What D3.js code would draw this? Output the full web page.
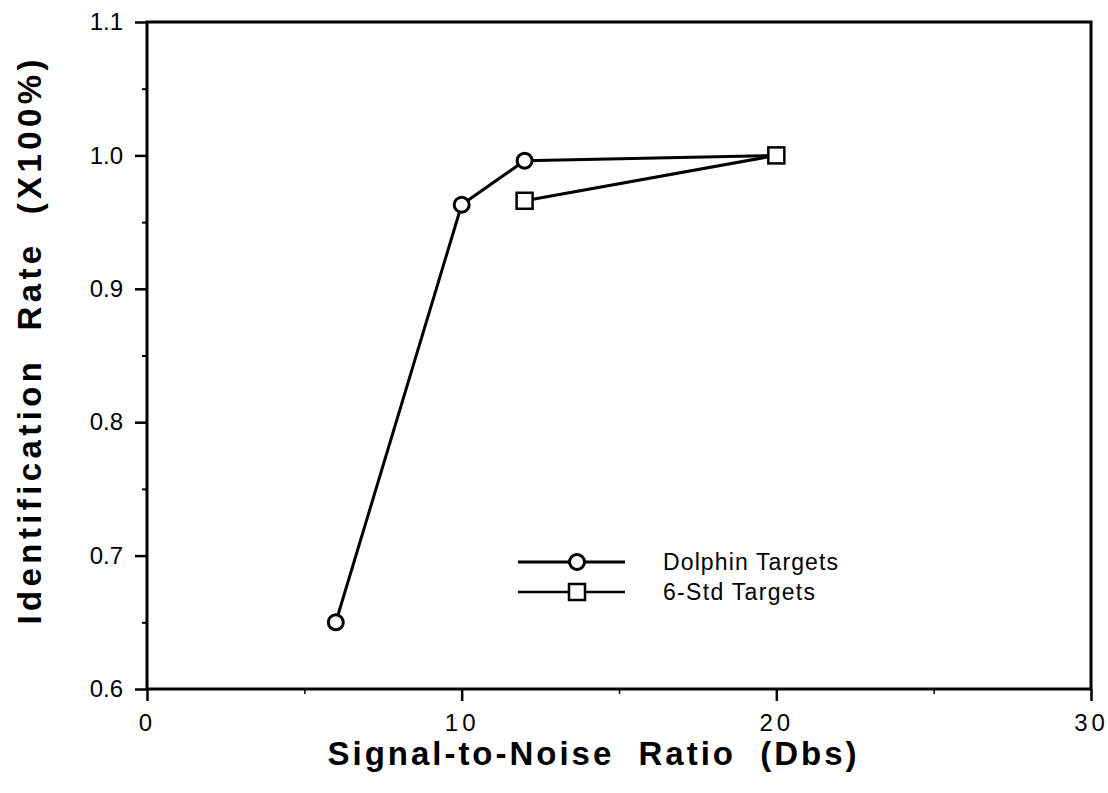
<!DOCTYPE html>
<html><head><meta charset="utf-8">
<script src="https://cdn.jsdelivr.net/npm/d3@7"></script>
<style>body{margin:0;background:#fff}svg{display:block}</style>
</head><body>
<script>
const dolphinX = [6, 10, 12, 20];
const dolphinY = [0.65, 0.963, 0.996, 1.0];
const stdX = [12, 20];
const stdY = [0.966, 1.0];
const xTicks = [0, 10, 20, 30];
const xMinor = [5, 15, 25];
const yTicks = [0.6, 0.7, 0.8, 0.9, 1.0, 1.1];
const yMinor = [0.65, 0.75, 0.85, 0.95, 1.05];
const legendLabels = ["Dolphin Targets", "6-Std Targets"];

const W = 1108, H = 793;
const svg = d3.select("body").append("svg").attr("width", W).attr("height", H);
const x = d3.scaleLinear().domain([0, 30]).range([147, 1091]);
const y = d3.scaleLinear().domain([0.6, 1.1]).range([689, 22]);
const font = "'Liberation Sans', Arial, Helvetica, sans-serif";

// frame
svg.append("rect").attr("x", x(0)).attr("y", y(1.1)).attr("width", x(30) - x(0)).attr("height", y(0.6) - y(1.1))
  .attr("fill", "none").attr("stroke", "#000").attr("stroke-width", 3);

// axes
const xAxis = d3.axisBottom(x).tickValues(xTicks).tickSize(12).tickPadding(13).tickFormat(d3.format("d"));
const gx = svg.append("g").attr("transform", `translate(0,${y(0.6)})`).call(xAxis);
gx.select(".domain").remove();
gx.selectAll("line").attr("stroke-width", 2.5);
gx.selectAll("text").style("font-family", font).style("font-size", "24px").attr("letter-spacing", 4).attr("fill", "#000");
const gxm = svg.append("g").attr("transform", `translate(0,${y(0.6)})`).call(d3.axisBottom(x).tickValues(xMinor).tickSize(5).tickFormat(""));
gxm.select(".domain").remove();
gxm.selectAll("line").attr("stroke-width", 1.5);

const yAxis = d3.axisLeft(y).tickValues(yTicks).tickSize(12).tickPadding(12).tickFormat(d3.format(".1f"));
const gy = svg.append("g").attr("transform", `translate(${x(0)},0)`).call(yAxis);
gy.select(".domain").remove();
gy.selectAll("line").attr("stroke-width", 2.5);
gy.selectAll("text").style("font-family", font).style("font-size", "24px").attr("fill", "#000");
const gym = svg.append("g").attr("transform", `translate(${x(0)},0)`).call(d3.axisLeft(y).tickValues(yMinor).tickSize(5).tickFormat(""));
gym.select(".domain").remove();
gym.selectAll("line").attr("stroke-width", 2);

// titles
svg.append("text").attr("x", 592).attr("y", 765).attr("text-anchor", "middle")
  .style("font-family", font).style("font-weight", "bold").style("font-size", "33px")
  .attr("textLength", 529).attr("lengthAdjust", "spacing")
  .style("white-space", "pre")
  .text("Signal-to-Noise  Ratio  (Dbs)");
svg.append("text").attr("transform", "translate(41,342) rotate(-90)").attr("text-anchor", "middle")
  .style("font-family", font).style("font-weight", "bold").style("font-size", "33px")
  .attr("textLength", 565).attr("lengthAdjust", "spacing")
  .style("white-space", "pre")
  .text("Identification  Rate  (X100%)");

const line = d3.line().x(d => x(d[0])).y(d => y(d[1]));
const dData = dolphinX.map((v, i) => [v, dolphinY[i]]);
const sData = stdX.map((v, i) => [v, stdY[i]]);

svg.append("path").datum(sData).attr("d", line).attr("fill", "none").attr("stroke", "#000").attr("stroke-width", 3);
svg.append("path").datum(dData).attr("d", line).attr("fill", "none").attr("stroke", "#000").attr("stroke-width", 3);

svg.selectAll(".sq").data(sData).enter().append("rect")
  .attr("x", d => x(d[0]) - 8).attr("y", d => y(d[1]) - 8).attr("width", 16).attr("height", 16)
  .attr("fill", "#fff").attr("stroke", "#000").attr("stroke-width", 2.5);
svg.selectAll(".ci").data(dData.slice(0, 3)).enter().append("circle")
  .attr("cx", d => x(d[0])).attr("cy", d => y(d[1])).attr("r", 7.5)
  .attr("fill", "#fff").attr("stroke", "#000").attr("stroke-width", 3);

// legend
const ly = [562, 592];
const lw = [175, 152];
legendLabels.forEach((lab, i) => {
  svg.append("line").attr("x1", 518).attr("x2", 625).attr("y1", ly[i]).attr("y2", ly[i])
    .attr("stroke", "#000").attr("stroke-width", i === 0 ? 3 : 2.5);
  if (i === 0) {
    svg.append("circle").attr("cx", 577).attr("cy", ly[i]).attr("r", 7.5).attr("fill", "#fff").attr("stroke", "#000").attr("stroke-width", 3);
  } else {
    svg.append("rect").attr("x", 569).attr("y", ly[i] - 8).attr("width", 16).attr("height", 16).attr("fill", "#fff").attr("stroke", "#000").attr("stroke-width", 2.5);
  }
  svg.append("text").attr("x", 663).attr("y", ly[i] + 8).style("font-family", font).style("font-size", "23px")
    .attr("textLength", lw[i]).attr("lengthAdjust", "spacing").attr("fill", "#000").text(lab);
});
</script>
</body></html>
